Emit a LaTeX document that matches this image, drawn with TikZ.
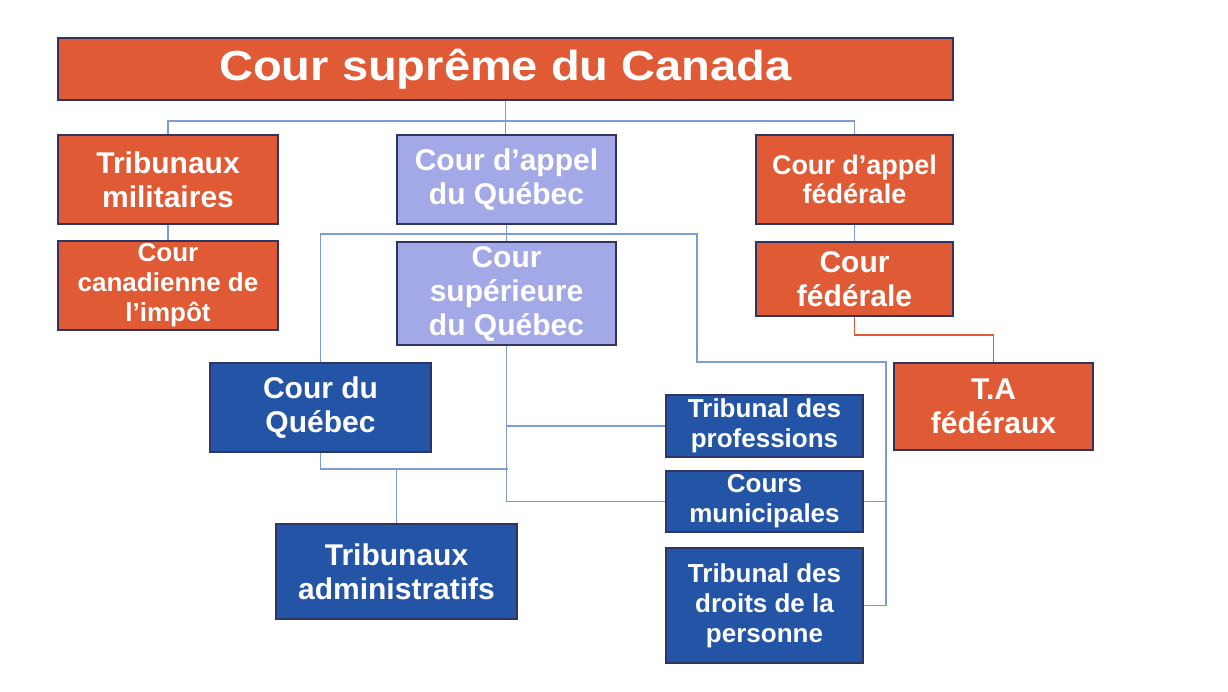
\documentclass[tikz,border=0pt]{standalone}
\usepackage{fontspec}
\setmainfont{Liberation Sans}
\newfontfamily\widesans[FakeStretch=1.12]{Liberation Sans}
\definecolor{orng}{HTML}{DF5A35}
\definecolor{lav}{HTML}{A3A9E6}
\definecolor{dblue}{HTML}{2454A6}
\definecolor{bord}{HTML}{2F3460}
\definecolor{conn}{HTML}{7B9CD6}
\begin{document}
\begin{tikzpicture}[x=1pt,y=-1pt,
  cbox/.style={draw=bord, line width=1.1pt, text=white, align=center, inner sep=0pt,
     font=\bfseries\fontsize{30}{34}\selectfont},
  small/.style={font=\bfseries\fontsize{26}{30}\selectfont},
  obox/.style={cbox, fill=orng},
  lbox/.style={cbox, fill=lav},
  bbox/.style={cbox, fill=dblue},
  link/.style={draw=conn, line width=1.3pt},
  rlink/.style={draw=orng, line width=1.8pt}]
\fill[white] (0,0) rectangle (1228,692);
\useasboundingbox (0,0) rectangle (1228,692);

\node[obox, minimum width=895pt, minimum height=62pt, font=\widesans\bfseries\fontsize{42}{46}\selectfont] (sup) at (505.5,69) {Cour suprême du Canada};
\node[obox, minimum width=220pt, minimum height=89pt] (mil) at (168,179.5) {Tribunaux\\militaires};
\node[obox, small, minimum width=220pt, minimum height=89pt] (cci) at (168,285.5) {Cour\\canadienne de\\l’impôt};
\node[lbox, minimum width=219pt, minimum height=89pt] (caq) at (506.5,179.5) {Cour d’appel\\du Québec};
\node[obox, minimum width=197pt, minimum height=89pt, font=\bfseries\fontsize{27}{29}\selectfont] (caf) at (854.5,179.5) {Cour d’appel\\fédérale};
\node[lbox, minimum width=219pt, minimum height=103pt] (csq) at (506.5,293.5) {Cour\\supérieure\\du Québec};
\node[obox, minimum width=197pt, minimum height=74pt] (cf) at (854.5,279) {Cour\\fédérale};
\node[obox, minimum width=199pt, minimum height=87pt] (ta) at (993.5,406.5) {T.A\\fédéraux};
\node[bbox, minimum width=221pt, minimum height=89pt] (cq) at (320.5,407.5) {Cour du\\Québec};
\node[bbox, minimum width=241pt, minimum height=95pt] (tad) at (396.5,571.5) {Tribunaux\\administratifs};
\node[bbox, small, minimum width=197pt, minimum height=62pt] (tp) at (764.5,426) {Tribunal des\\professions};
\node[bbox, small, minimum width=197pt, minimum height=61pt] (cm) at (764.5,501.5) {Cours\\municipales};
\node[bbox, small, minimum width=197pt, minimum height=115pt] (tdp) at (764.5,605.5) {Tribunal des\\droits de la\\personne};

\coordinate (bus) at (508,121);
\coordinate (b2) at (508,234);
\coordinate (r1) at (697,362);
\coordinate (r2) at (886,362);
\coordinate (j) at (508,469);
\coordinate (rj) at (900,335);

\draw[link] (sup.south) -- (sup.south |- caq.north);
\draw[link] (mil.north) |- (bus) -| (caf.north);
\draw[link] (mil.south) -- (cci.north);
\draw[link] (caf.south) -- (cf.north);
\draw[link] (caq.south) -- (caq.south |- csq.north);
\draw[link] (cq.north) |- (b2) -| (r1) -- (r2) |- (tdp.east);
\draw[link] (cm.east) -- (cm.east -| r2);
\draw[link] (csq.south) |- (cm.west);
\draw[link] (tp.west) -- (tp.west -| csq.south);
\draw[link] (cq.south) |- (j);
\draw[link] (tad.north) -- (tad.north |- j);
\draw[rlink] (cf.south) |- (rj) -| (ta.north);
\end{tikzpicture}
\end{document}
